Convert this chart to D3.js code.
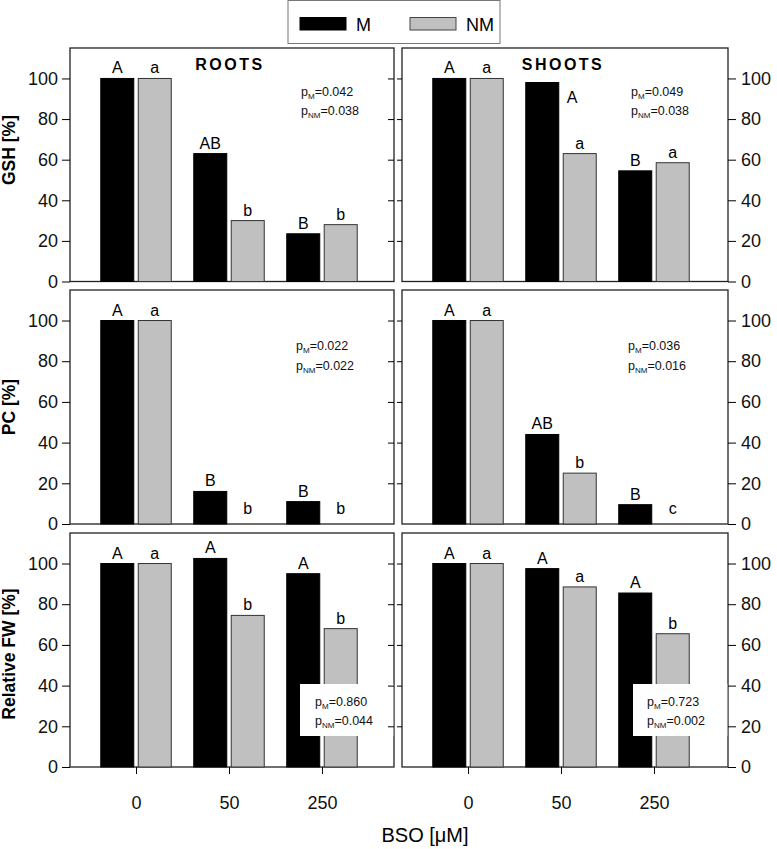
<!DOCTYPE html>
<html><head><meta charset="utf-8">
<script src="https://cdn.jsdelivr.net/npm/d3@7"></script>
<style>body{margin:0;background:#fff}svg{display:block;font-family:"Liberation Sans",Arial,sans-serif}</style>
</head><body><svg id="c" width="777" height="849"></svg>
<script>
// ---------- data ----------
const doses = ["0", "50", "250"];
const seriesNames = ["M", "NM"];
const yTicks = [0, 20, 40, 60, 80, 100];
const rowTitles = ["GSH [%]", "PC [%]", "Relative FW [%]"];
const colTitles = ["ROOTS", "SHOOTS"];

const gshRootsM = [100, 63, 23.5];
const gshRootsNM = [100, 30, 28];
const gshShootsM = [100, 98, 54.5];
const gshShootsNM = [100, 63, 58.5];
const pcRootsM = [100, 16, 11];
const pcRootsNM = [100, 0, 0];
const pcShootsM = [100, 44, 9.5];
const pcShootsNM = [100, 25, 0];
const fwRootsM = [100, 102.5, 95];
const fwRootsNM = [100, 74.5, 68];
const fwShootsM = [100, 97.5, 85.5];
const fwShootsNM = [100, 88.5, 65.5];

const gshRootsMLet = ["A", "AB", "B"];
const gshRootsNMLet = ["a", "b", "b"];
const gshShootsMLet = ["A", "A", "B"];
const gshShootsNMLet = ["a", "a", "a"];
const pcRootsMLet = ["A", "B", "B"];
const pcRootsNMLet = ["a", "b", "b"];
const pcShootsMLet = ["A", "AB", "B"];
const pcShootsNMLet = ["a", "b", "c"];
const fwRootsMLet = ["A", "A", "A"];
const fwRootsNMLet = ["a", "b", "b"];
const fwShootsMLet = ["A", "A", "A"];
const fwShootsNMLet = ["a", "a", "b"];

const pM = ["0.042", "0.049", "0.022", "0.036", "0.860", "0.723"];
const pNM = ["0.038", "0.038", "0.022", "0.016", "0.044", "0.002"];

// ---------- layout ----------
const panelsData = [
  [gshRootsM, gshRootsNM, gshRootsMLet, gshRootsNMLet],
  [gshShootsM, gshShootsNM, gshShootsMLet, gshShootsNMLet],
  [pcRootsM, pcRootsNM, pcRootsMLet, pcRootsNMLet],
  [pcShootsM, pcShootsNM, pcShootsMLet, pcShootsNMLet],
  [fwRootsM, fwRootsNM, fwRootsMLet, fwRootsNMLet],
  [fwShootsM, fwShootsNM, fwShootsMLet, fwShootsNMLet]
];
const rowsTop = [48, 290, 533], rowsBot = [281.5, 524, 767];
const colsL = [70, 402], colsR = [394, 728];
const colors = {M: "#000", NM: "#c0c0c0"};

const svg = d3.select("#c");
const fs = 18;

panelsData.forEach((pd, i) => {
  const row = Math.floor(i / 2), col = i % 2;
  const L = colsL[col], R = colsR[col], T = rowsTop[row], B = rowsBot[row];
  const y = d3.scaleLinear().domain([0, 115]).range([B, T]);
  const x = d3.scalePoint().domain(doses).range([L, L + 318]).padding(0.71);
  const step = x.step();
  const bw = step * 0.355, gap = step * 0.024;
  const g = svg.append("g");

  // frame
  g.append("rect").attr("x", L).attr("y", T).attr("width", R - L).attr("height", B - T)
    .attr("fill", "none").attr("stroke", "#222").attr("stroke-width", 1.3);

  // bars
  seriesNames.forEach((s, si) => {
    const vals = pd[si];
    g.selectAll(null).data(doses).enter().append("rect")
      .attr("x", (d) => si === 0 ? x(d) - gap - bw : x(d) + gap)
      .attr("y", (d, k) => y(vals[k]))
      .attr("width", bw)
      .attr("height", (d, k) => y(0) - y(vals[k]))
      .attr("fill", colors[s])
      .attr("stroke", si === 0 ? "#000" : "#333")
      .attr("stroke-width", 1)
      .style("display", (d, k) => vals[k] > 0 ? null : "none");
  });

  // p-value box for bottom row
  if (row === 2) {
    g.append("rect").attr("x", col === 0 ? 300 : 633).attr("y", 684)
      .attr("width", R - (col === 0 ? 300 : 633) - 0.7).attr("height", 52).attr("fill", "#fff");
  }

  // letters
  seriesNames.forEach((s, si) => {
    const vals = pd[si], lets = pd[si + 2];
    g.selectAll(null).data(doses).enter().append("text")
      .attr("x", (d) => {
        let cx = si === 0 ? x(d) - gap - bw / 2 : x(d) + gap + bw / 2;
        if (i === 1 && si === 0 && d === "50") cx = x(d) + 11;
        return cx;
      })
      .attr("y", (d, k) => {
        if (i === 1 && si === 0 && d === "50") return y(vals[k]) + 20;
        return Math.min(y(vals[k]) - 5, y(0) - 10);
      })
      .attr("text-anchor", "middle").attr("font-size", 16).attr("fill", "#000")
      .text((d, k) => lets[k]);
  });

  // y axis ticks
  if (col === 0) {
    const ax = d3.axisLeft(y).tickValues(yTicks).tickSize(8).tickPadding(4);
    const ga = g.append("g").attr("transform", `translate(${L},0)`).call(ax);
    ga.select(".domain").remove();
    ga.selectAll("text").attr("font-size", fs).attr("font-family", "Liberation Sans, Arial, sans-serif").attr("fill", "#111");
    const ai = d3.axisLeft(y).tickValues(yTicks.slice(1)).tickSize(6).tickFormat("");
    const gi = g.append("g").attr("transform", `translate(${R},0)`).call(ai);
    gi.select(".domain").remove();
  } else {
    const ax = d3.axisRight(y).tickValues(yTicks).tickSize(8).tickPadding(5);
    const ga = g.append("g").attr("transform", `translate(${R},0)`).call(ax);
    ga.select(".domain").remove();
    ga.selectAll("text").attr("font-size", fs).attr("font-family", "Liberation Sans, Arial, sans-serif").attr("fill", "#111");
    const ai = d3.axisLeft(y).tickValues(yTicks.slice(1)).tickSize(5).tickFormat("");
    const gi = g.append("g").attr("transform", `translate(${L},0)`).call(ai);
    gi.select(".domain").remove();
  }

  // x axis on bottom row
  if (row === 2) {
    const xa = d3.axisBottom(x).tickSize(7).tickPadding(22);
    const gx = g.append("g").attr("transform", `translate(0,${B})`).call(xa);
    gx.select(".domain").remove();
    gx.selectAll("text").attr("font-size", fs).attr("font-family", "Liberation Sans, Arial, sans-serif").attr("fill", "#111");
  }

  // column titles
  if (row === 0) {
    g.append("text").attr("x", (L + R) / 2 - 2).attr("y", T + 22)
      .attr("text-anchor", "middle").attr("font-size", 16).attr("font-weight", "bold")
      .attr("letter-spacing", 2.5).text(colTitles[col]);
  }

  // p-values
  const px = row === 2 ? (col === 0 ? 315 : 647) : (col === 0 ? (row === 0 ? 301 : 296) : (row === 0 ? 631 : 628));
  const py = row === 2 ? [706, 725] : (row === 0 ? [96, 115] : [350, 370]);
  [["M", pM[i]], ["NM", pNM[i]]].forEach(([sub, val], li) => {
    const t = g.append("text").attr("x", px).attr("y", py[li]).attr("font-size", 12.5).attr("fill", "#111");
    t.append("tspan").text("p");
    t.append("tspan").attr("font-size", 8).attr("dy", 3).text(sub);
    t.append("tspan").attr("dy", -3).text("=" + val);
  });
});

// row titles
const titleY = [150, 407, 654];
rowTitles.forEach((t, r) => {
  svg.append("text").attr("transform", `translate(15,${titleY[r]}) rotate(-90)`)
    .attr("text-anchor", "middle").attr("font-size", 17.5).attr("font-weight", "bold").text(t);
});

// x title
svg.append("text").attr("x", 425).attr("y", 842).attr("text-anchor", "middle")
  .attr("font-size", 20).text("BSO [\u03BCM]");

// legend
const lg = svg.append("g");
lg.append("rect").attr("x", 288).attr("y", 0.5).attr("width", 212).attr("height", 43)
  .attr("fill", "#fff").attr("stroke", "#777").attr("stroke-width", 1);
const legX = d3.scalePoint().domain(seriesNames).range([300, 410]);
seriesNames.forEach((s) => {
  lg.append("rect").attr("x", legX(s)).attr("y", 17.5).attr("width", 46).attr("height", 12.5)
    .attr("fill", colors[s]).attr("stroke", s === "M" ? "#000" : "#444").attr("stroke-width", 1);
  lg.append("text").attr("x", legX(s) + 56).attr("y", 30.5).attr("font-size", 18).text(s);
});
</script></body></html>
